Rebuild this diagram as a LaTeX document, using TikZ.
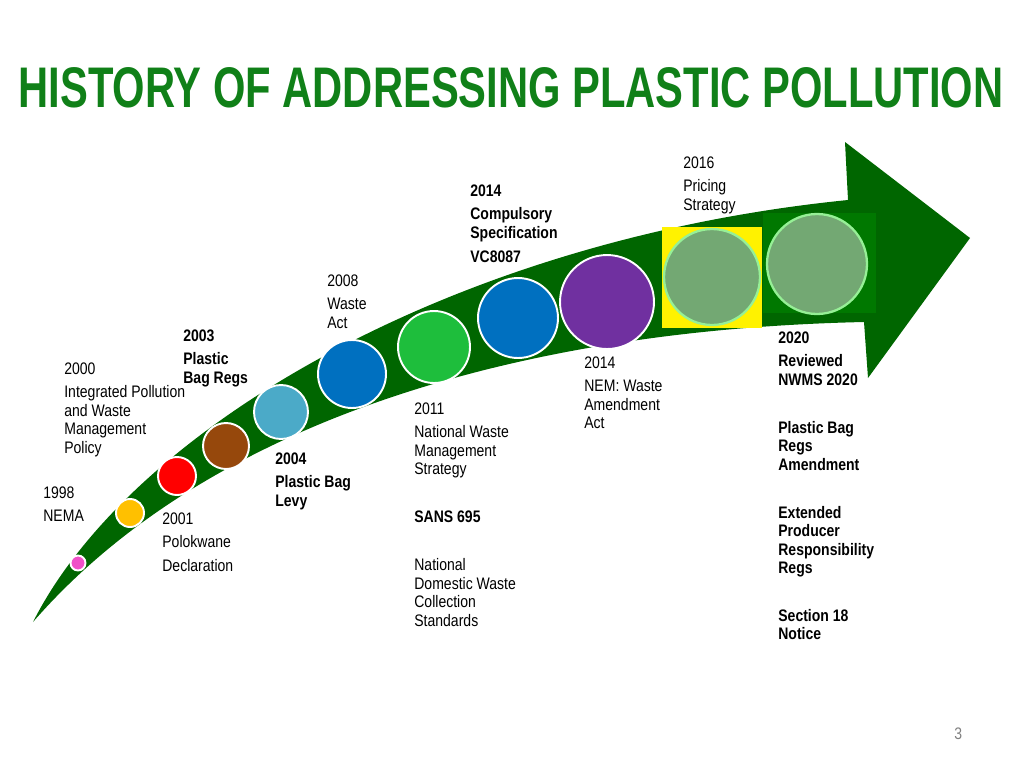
\documentclass[tikz,border=0pt]{standalone}
\usepackage{fontspec}
\setmainfont{Liberation Sans}
\newfontfamily\narrowfont{Liberation Sans}[FakeStretch=0.84]
\usepackage{graphicx}
\usetikzlibrary{positioning}
\definecolor{titlegreen}{RGB}{16,128,24}
\definecolor{arrowgreen}{RGB}{0,102,0}
\definecolor{dotpink}{RGB}{240,80,200}
\definecolor{dotyellow}{RGB}{255,192,0}
\definecolor{dotbrown}{RGB}{150,72,12}
\definecolor{dotsky}{RGB}{75,170,200}
\definecolor{dotblue}{RGB}{0,112,192}
\definecolor{dotgreen}{RGB}{30,190,60}
\definecolor{dotpurple}{RGB}{112,48,160}
\definecolor{dotsage}{RGB}{115,168,115}
\definecolor{ringgreen}{RGB}{150,240,150}
\definecolor{boxgreen}{RGB}{0,120,0}
\tikzset{dot/.style={circle,draw=white,line width=1.1pt,inner sep=0pt}}
\tikzset{big/.style={circle,draw=ringgreen,line width=1.3pt,fill=dotsage,inner sep=0pt}}
\tikzset{txt/.style={anchor=north west,inner sep=0pt,align=left,
  font=\narrowfont\fontsize{9.5}{10.5}\selectfont}}
\tikzset{btxt/.style={txt,font=\narrowfont\bfseries\fontsize{9.5}{10.5}\selectfont}}
\newcommand{\gap}{\\[0.11cm]}
\newcommand{\blank}{\\[0.59cm]}
\begin{document}
\begin{tikzpicture}[x=0.02cm,y=-0.02cm,line join=round]
  \useasboundingbox (0,0) rectangle (1024,768);
  % title
  \node (title) at (511,88) {\color{titlegreen}\resizebox{19.7cm}{0.8cm}{\bfseries HISTORY OF ADDRESSING PLASTIC POLLUTION}};
  % arrow
  \fill[arrowgreen] (33,622) .. controls (130,430) and (450,240) .. (848,200)
    -- (845,142) -- (970,238) -- (868,378) -- (864,322)
    .. controls (500,330) and (200,430) .. (33,622) -- cycle;
  % boxes behind the last two circles
  \fill[yellow] (662,227) rectangle (762,328);
  \fill[boxgreen] (763,213) rectangle (876,313);
  % circles
  \node[dot,fill=dotpink,minimum size=0.3cm] (c1998) at (78,563) {};
  \node[dot,fill=dotyellow,minimum size=0.56cm] (c2000) at (130,513) {};
  \node[dot,fill=red,minimum size=0.76cm] (c2001) at (177,476) {};
  \node[dot,fill=dotbrown,minimum size=0.92cm] (c2003) at (226,446) {};
  \node[dot,fill=dotsky,minimum size=1.08cm] (c2004) at (281,412) {};
  \node[dot,fill=dotblue,minimum size=1.36cm] (c2008) at (352,374) {};
  \node[dot,fill=dotgreen,minimum size=1.44cm] (c2011) at (434,347) {};
  \node[dot,fill=dotblue,minimum size=1.6cm] (c2014a) at (518,318) {};
  \node[dot,fill=dotpurple,minimum size=1.88cm] (c2014b) at (607,302) {};
  \node[big,minimum size=1.92cm] (c2016) at (712,277) {};
  \node[big,minimum size=2.0cm] (c2020) at (817,264) {};
  % labels
  \node[txt] (t1998) at (43,486) {1998\gap NEMA};
  \node[txt] (t2000) at (64,362) {2000\gap Integrated Pollution\\and Waste\\Management\\Policy};
  \node[txt] (t2001) at (162,512) {2001\gap Polokwane\gap Declaration};
  \node[btxt] (t2003) at (183,329) {2003\gap Plastic\\Bag Regs};
  \node[btxt] (t2004) at (275,452) {2004\gap Plastic Bag\\Levy};
  \node[txt] (t2008) at (327,274) {2008\gap Waste\\Act};
  \node[txt] (t2011) at (414,402) {2011\gap National Waste\\Management\\Strategy\blank
    \textbf{SANS 695}\blank National\\Domestic Waste\\Collection\\Standards};
  \node[btxt] (t2014a) at (470,184) {2014\gap Compulsory\\Specification\gap VC8087};
  \node[txt] (t2014b) at (584,356) {2014\gap NEM: Waste\\Amendment\\Act};
  \node[txt] (t2016) at (683,156) {2016\gap Pricing\\Strategy};
  \node[btxt] (t2020) at (778,331) {2020\gap Reviewed\\NWMS 2020\blank
    Plastic Bag\\Regs\\Amendment\blank Extended\\Producer\\Responsibility\\Regs\blank Section 18\\Notice};
  \node[txt,text=gray] (page) at (954,727) {3};
\end{tikzpicture}
\end{document}
